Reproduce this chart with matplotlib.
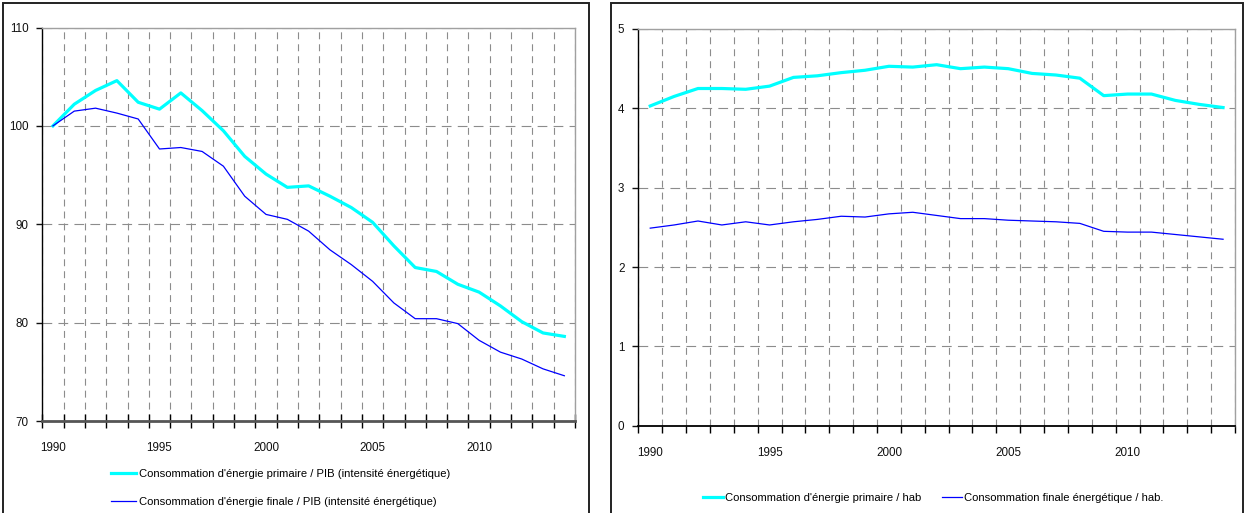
#! /usr/bin/env python3
import matplotlib
matplotlib.use("Agg")
import matplotlib.pyplot as plt
from matplotlib.patches import Rectangle
from matplotlib.ticker import FixedLocator, NullFormatter

""" Intensite energetique et consommation par habitant, 1990-2014 """

plt.rcParams['font.family'] = ['Liberation Sans', 'DejaVu Sans']
plt.rcParams['lines.scale_dashes'] = False

years = list(range(1990, 2015))
year_labels = ['1990', '1995', '2000', '2005', '2010']

#Indice base 100 en 1990
primaire_pib = [100.0, 102.2, 103.6, 104.6, 102.4, 101.7, 103.35, 101.55, 99.5, 96.9,
                95.1, 93.75, 93.9, 92.85, 91.7, 90.2, 87.8, 85.6, 85.2, 83.9,
                83.1, 81.7, 80.1, 78.95, 78.6]
finale_pib = [100.0, 101.5, 101.8, 101.3, 100.7, 97.65, 97.8, 97.4, 95.9, 92.85,
              91.0, 90.5, 89.3, 87.4, 85.9, 84.2, 82.0, 80.4, 80.4, 79.9,
              78.2, 77.0, 76.3, 75.3, 74.6]

#tep / habitant
primaire_hab = [4.03, 4.15, 4.25, 4.25, 4.24, 4.28, 4.39, 4.41, 4.45, 4.48,
                4.53, 4.52, 4.55, 4.50, 4.52, 4.50, 4.44, 4.42, 4.38, 4.16,
                4.18, 4.18, 4.10, 4.05, 4.01]
finale_hab = [2.49, 2.53, 2.58, 2.53, 2.57, 2.53, 2.57, 2.60, 2.64, 2.63,
              2.67, 2.69, 2.65, 2.61, 2.61, 2.59, 2.58, 2.57, 2.55, 2.45,
              2.44, 2.44, 2.41, 2.38, 2.35]

labels_left = ["Consommation d'énergie primaire / PIB (intensité énergétique)",
               "Consommation d'énergie finale / PIB (intensité énergétique)"]
labels_right = ["Consommation d'énergie primaire / hab",
                "Consommation finale énergétique / hab."]

CYAN = '#00FFFF'
BLUE = '#0000FF'
GRID = '#8c8c8c'
W, H = 1245, 513


def fig_rect(x0, y0, x1, y1):
    """pixel box (top-left origin) -> figure fraction rect"""
    return [x0 / W, 1 - y1 / H, (x1 - x0) / W, (y1 - y0) / H]


def style_axes(ax, ylim, yticks, bottom_color, bottom_lw, tick_dir, tick_len):
    n = len(years)
    ax.set_xlim(-0.5, n - 0.5)
    ax.set_ylim(*ylim)
    ax.set_yticks(yticks)
    ax.set_yticklabels([str(v) for v in yticks])
    ax.set_xticks([years.index(int(y)) for y in year_labels])
    ax.set_xticklabels(year_labels)
    ax.xaxis.set_minor_locator(FixedLocator([i - 0.5 for i in range(n + 1)]))
    ax.xaxis.set_minor_formatter(NullFormatter())
    ax.tick_params(axis='x', which='major', length=0, pad=15, labelsize=8.4, colors='#111111')
    ax.tick_params(axis='x', which='minor', direction=tick_dir, length=tick_len,
                   width=1.0, color='black')
    ax.tick_params(axis='y', which='major', direction='out', length=4, width=1.0,
                   pad=6, labelsize=8.4, colors='#111111')
    ax.grid(axis='x', which='minor', color=GRID, lw=0.8, linestyle=(0, (5, 3.6)))
    ax.grid(axis='y', which='major', color=GRID, lw=0.8, linestyle=(0, (7, 4.5)))
    ax.set_axisbelow(True)
    ax.spines['left'].set_color('black')
    ax.spines['left'].set_linewidth(1.0)
    ax.spines['bottom'].set_color(bottom_color)
    ax.spines['bottom'].set_linewidth(bottom_lw)
    for s in ('top', 'right'):
        ax.spines[s].set_color('#a0a0a0')
        ax.spines[s].set_linewidth(1.0)


fig = plt.figure(figsize=(W / 100, H / 100), dpi=100)

#Panel frames (no bottom edge)
for x0, x1 in ((3, 589), (611, 1243)):
    fig.patches.append(Rectangle((x0 / W, -0.05), (x1 - x0) / W, 1.05 - 3 / H,
                                 transform=fig.transFigure, fill=False,
                                 edgecolor='#222222', lw=1.4))

#Left: intensite energetique
ax1 = fig.add_axes(fig_rect(42.3, 27.5, 575, 421))
x = list(range(len(years)))
ax1.plot(x, primaire_pib, color=CYAN, lw=2.3, label=labels_left[0], solid_joinstyle='round')
ax1.plot(x, finale_pib, color=BLUE, lw=0.9, label=labels_left[1])
style_axes(ax1, (70, 110), [70, 80, 90, 100, 110], '#555555', 2.0, 'inout', 10)
ax1.legend(loc='upper left', bbox_to_anchor=(111 / W, 1 - 469 / H),
           bbox_transform=fig.transFigure, frameon=False, fontsize=8.15,
           handlelength=2.2, handletextpad=0.25, labelspacing=1.58, borderpad=0,
           borderaxespad=0)

#Right: consommation par habitant
ax2 = fig.add_axes(fig_rect(638.3, 29, 1235, 425.7))
ax2.plot(x, primaire_hab, color=CYAN, lw=2.3, label=labels_right[0], solid_joinstyle='round')
ax2.plot(x, finale_hab, color=BLUE, lw=0.9, label=labels_right[1])
style_axes(ax2, (0, 5), [0, 1, 2, 3, 4, 5], 'black', 1.3, 'out', 5)
ax2.legend(loc='center', bbox_to_anchor=(933 / W, 1 - 498 / H),
           bbox_transform=fig.transFigure, frameon=False, fontsize=8.15, ncol=2,
           handlelength=1.8, handletextpad=0.15, columnspacing=1.8, borderpad=0,
           borderaxespad=0)

fig.savefig('out.png', dpi=100)
